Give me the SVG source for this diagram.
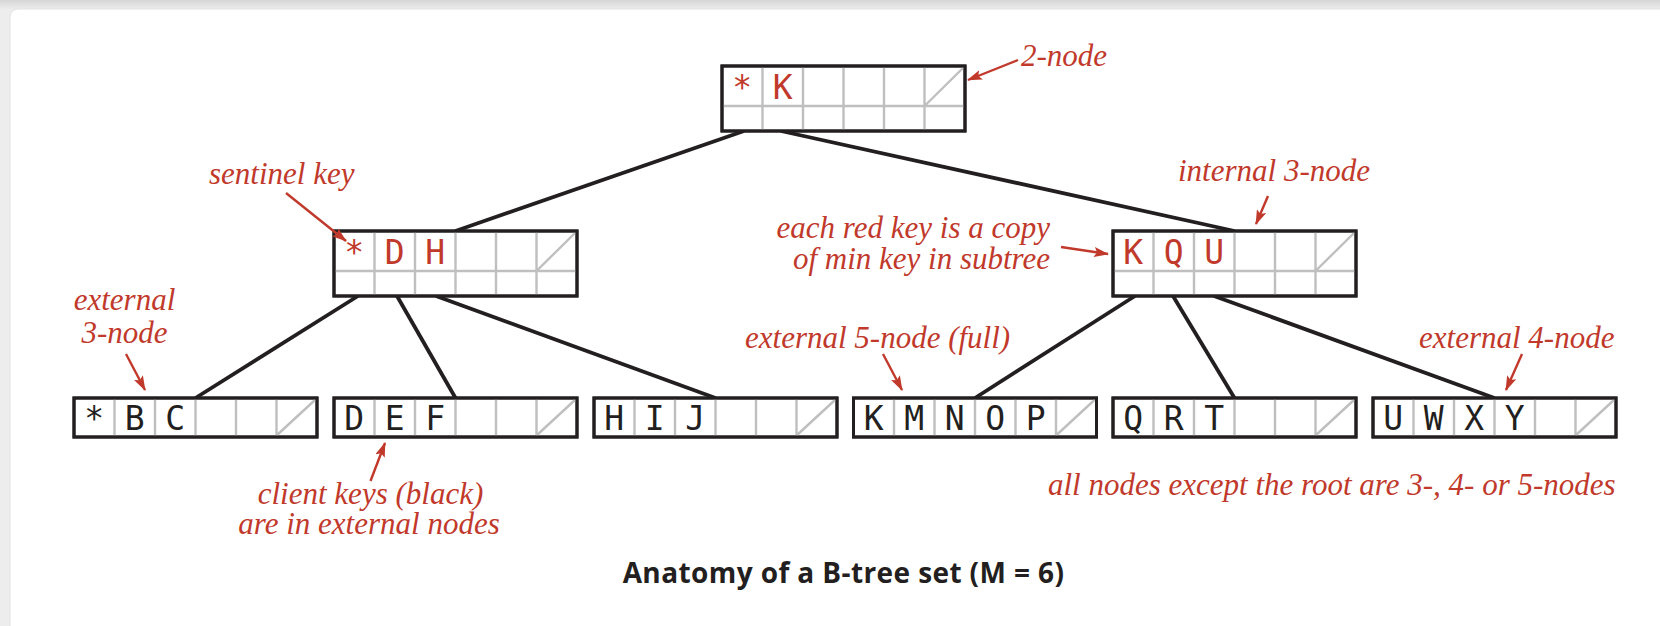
<svg xmlns="http://www.w3.org/2000/svg" width="1660" height="626" viewBox="0 0 1660 626">
<style>
.nb{fill:#fff;stroke:#231f20;stroke-width:3}
.gl{stroke:#bfbfbf;stroke-width:2.4;fill:none}
.key{font-family:"DejaVu Sans Mono","Liberation Mono",monospace;font-size:33px;text-anchor:middle}
.red{fill:#c1392b}
.blk{fill:#231f20}
.ann{font-family:"Liberation Serif",serif;font-style:italic;font-size:31px;fill:#c1392b}
.edge{stroke:#231f20;stroke-width:3.8;fill:none}
.arr{stroke:#c1392b;stroke-width:2.4;fill:none;marker-end:url(#ah)}
.title{font-family:"Open Sans","Liberation Sans",sans-serif;font-weight:bold;font-size:28px;letter-spacing:0.4px;fill:#231f20;text-anchor:middle}
</style>
<defs>
<linearGradient id="tg" x1="0" y1="0" x2="0" y2="1">
<stop offset="0" stop-color="#d6d6d6"/><stop offset="1" stop-color="#ececec"/>
</linearGradient>
<marker id="ah" markerUnits="userSpaceOnUse" markerWidth="15" markerHeight="10" refX="14" refY="5" orient="auto">
<path d="M0,0 L15,5 L0,10 L3,5 z" fill="#c1392b"/>
</marker>
<g id="inode">
<rect class="nb" x="0" y="0" width="243" height="65"/>
<path class="gl" d="M40.5,1.5V63.5M81,1.5V63.5M121.5,1.5V63.5M162,1.5V63.5M202.5,1.5V63.5M1.5,40H241.5M202.5,40L241.5,1.5"/>
<rect x="0" y="0" width="243" height="65" fill="none" stroke="#231f20" stroke-width="3"/>
</g>
<g id="leaf">
<rect class="nb" x="0" y="0" width="243" height="39"/>
<path class="gl" d="M40.5,1.5V37.5M81,1.5V37.5M121.5,1.5V37.5M162,1.5V37.5M202.5,1.5V37.5M202.5,37.5L241.5,1.5"/>
<rect x="0" y="0" width="243" height="39" fill="none" stroke="#231f20" stroke-width="3"/>
</g>
</defs>
<rect x="0" y="0" width="1660" height="626" fill="#ededed"/>
<rect x="0" y="0" width="1660" height="9" fill="url(#tg)"/>
<rect x="10" y="9" width="1680" height="640" rx="8" fill="#fff" stroke="#e2e2e2" stroke-width="1"/>

<g id="connectors">
<path class="edge" d="M744,131L455.5,231"/>
<path class="edge" d="M781,131L1234.5,231"/>
<path class="edge" d="M358,296L195.5,398"/>
<path class="edge" d="M397,296L455.5,398"/>
<path class="edge" d="M436,296L715.5,398"/>
<path class="edge" d="M1135,296L975,398"/>
<path class="edge" d="M1173,296L1234.5,398"/>
<path class="edge" d="M1214,296L1494.5,398"/>
</g>

<g id="root" transform="translate(722,66)">
<use href="#inode"/>
<text class="key red" x="20.25" y="33">*</text>
<text class="key red" x="60.75" y="33">K</text>
</g>
<g id="node-DH" transform="translate(334,231)">
<use href="#inode"/>
<text class="key red" x="20.25" y="33">*</text>
<text class="key red" x="60.75" y="33">D</text>
<text class="key red" x="101.25" y="33">H</text>
</g>
<g id="node-KQU" transform="translate(1113,231)">
<use href="#inode"/>
<text class="key red" x="20.25" y="33">K</text>
<text class="key red" x="60.75" y="33">Q</text>
<text class="key red" x="101.25" y="33">U</text>
</g>
<g id="leaf-BC" transform="translate(74,398)">
<use href="#leaf"/>
<text class="key blk" x="20.25" y="31.5">*</text>
<text class="key blk" x="60.75" y="31.5">B</text>
<text class="key blk" x="101.25" y="31.5">C</text>
</g>
<g id="leaf-DEF" transform="translate(334,398)">
<use href="#leaf"/>
<text class="key blk" x="20.25" y="31.5">D</text>
<text class="key blk" x="60.75" y="31.5">E</text>
<text class="key blk" x="101.25" y="31.5">F</text>
</g>
<g id="leaf-HIJ" transform="translate(594,398)">
<use href="#leaf"/>
<text class="key blk" x="20.25" y="31.5">H</text>
<text class="key blk" x="60.75" y="31.5">I</text>
<text class="key blk" x="101.25" y="31.5">J</text>
</g>
<g id="leaf-KMNOP" transform="translate(853.5,398)">
<use href="#leaf"/>
<text class="key blk" x="20.25" y="31.5">K</text>
<text class="key blk" x="60.75" y="31.5">M</text>
<text class="key blk" x="101.25" y="31.5">N</text>
<text class="key blk" x="141.75" y="31.5">O</text>
<text class="key blk" x="182.25" y="31.5">P</text>
</g>
<g id="leaf-QRT" transform="translate(1113,398)">
<use href="#leaf"/>
<text class="key blk" x="20.25" y="31.5">Q</text>
<text class="key blk" x="60.75" y="31.5">R</text>
<text class="key blk" x="101.25" y="31.5">T</text>
</g>
<g id="leaf-UWXY" transform="translate(1373,398)">
<use href="#leaf"/>
<text class="key blk" x="20.25" y="31.5">U</text>
<text class="key blk" x="60.75" y="31.5">W</text>
<text class="key blk" x="101.25" y="31.5">X</text>
<text class="key blk" x="141.75" y="31.5">Y</text>
</g>

<g id="annotations">
<path class="arr" d="M1018,60L968,80"/>
<text class="ann" x="1021" y="66">2-node</text>
<path class="arr" d="M286,193L346,241"/>
<text class="ann" x="209" y="184">sentinel key</text>
<path class="arr" d="M1268,196L1256,224"/>
<text class="ann" x="1178" y="181">internal 3-node</text>
<path class="arr" d="M1061,247L1108,254"/>
<text class="ann" x="1050" y="238" text-anchor="end">each red key is a copy</text>
<text class="ann" x="1050" y="269" text-anchor="end">of min key in subtree</text>
<path class="arr" d="M126,354L145,390"/>
<text class="ann" x="124.5" y="310" text-anchor="middle">external</text>
<text class="ann" x="124.5" y="343" text-anchor="middle">3-node</text>
<path class="arr" d="M883,354L902,390"/>
<text class="ann" x="745" y="348">external 5-node (full)</text>
<path class="arr" d="M1522,354L1506,390"/>
<text class="ann" x="1419" y="348">external 4-node</text>
<path class="arr" d="M370.5,481L385,443"/>
<text class="ann" x="370.5" y="504" text-anchor="middle">client keys (black)</text>
<text class="ann" x="369" y="534" text-anchor="middle">are in external nodes</text>
<text class="ann" x="1048" y="495">all nodes except the root are 3-, 4- or 5-nodes</text>
</g>

<text class="title" x="843.5" y="583">Anatomy of a B-tree set (M = 6)</text>
</svg>
